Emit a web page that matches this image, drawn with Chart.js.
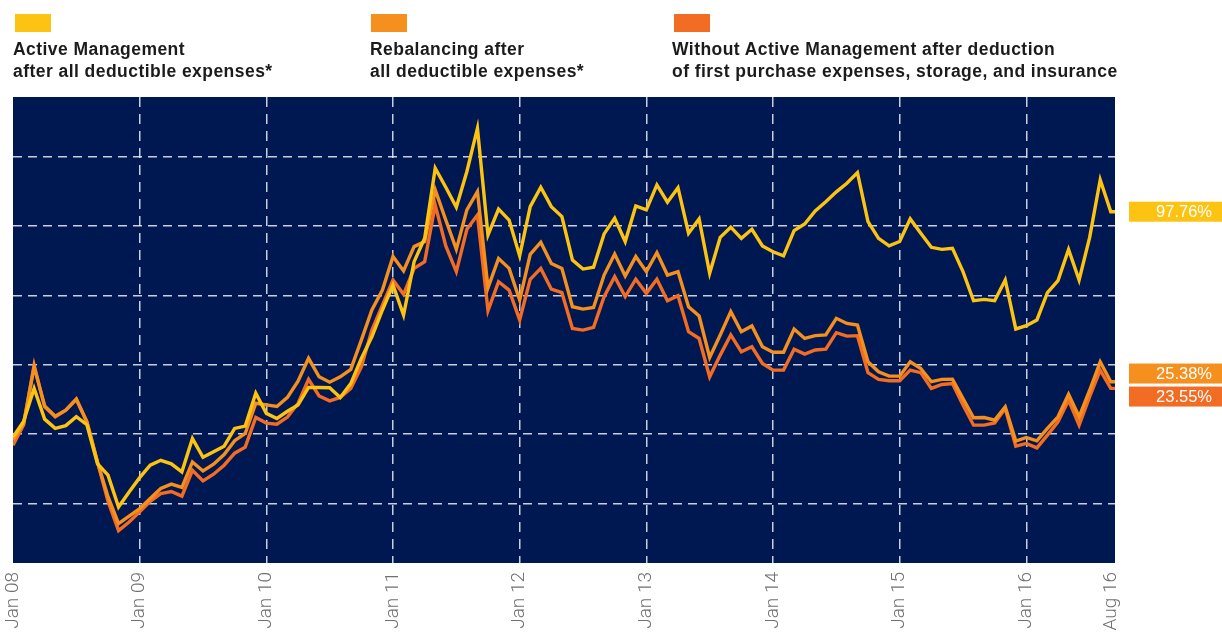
<!DOCTYPE html>
<html lang="en">
<head>
    <meta charset="UTF-8">
    <title>Active Management vs Rebalancing</title>
    <script src="https://cdn.jsdelivr.net/npm/chart.js"></script>
    <style>
        body { margin: 0; background: #fff; font-family: "Liberation Sans", Arial, sans-serif; }
        #wrap { position: relative; width: 1222px; height: 640px; }
        #chart { position: absolute; left: 0; top: 0; }
        .key { position: absolute; top: 14px; width: 36px; height: 18px; }
        .ktext { position: absolute; top: 38px; font-size: 17.5px; letter-spacing: 0.45px; font-weight: bold; line-height: 22px; color: #1b1b1b; white-space: nowrap; }
    </style>
</head>
<body>
<div id="wrap">
    <canvas id="chart" width="1222" height="640"></canvas>
    <div class="key" style="left:15px;background:#fdc312"></div>
    <div class="ktext" style="left:13px">Active Management<br>after all deductible expenses*</div>
    <div class="key" style="left:371px;background:#f5901f"></div>
    <div class="ktext" style="left:370px">Rebalancing after<br>all deductible expenses*</div>
    <div class="key" style="left:674px;background:#f26c23"></div>
    <div class="ktext" style="left:672px">Without Active Management after deduction<br>of first purchase expenses, storage, and insurance</div>
</div>
<script>
    // monthly values, Jan 08 .. Aug 16 (% change)
    const activeMgmt = [
        -1.2, 5.5, 19.8, 6.5, 2.5, 3.7, 7.6, 4.1, -12.7, -17.7, -31.5, -25.0,
        -18.8, -13.4, -11.3, -12.8, -16.3, -1.9, -10.0, -7.6, -5.2, 2.5, 3.5, 17.7,
        9.0, 6.8, 9.9, 12.6, 20.2, 20.2, 20.1, 15.9, 21.9, 32.8, 42.1, 53.7,
        64.5, 51.5, 74.6, 84.7, 115.0, 106.8, 98.1, 113.6, 132.3, 86.1, 97.3, 92.6,
        77.1, 98.4, 106.8, 98.4, 94.1, 75.3, 71.4, 72.2, 86.6, 93.4, 83.3, 98.7,
        97.0, 107.8, 100.3, 106.6, 86.9, 93.1, 69.6, 85.1, 89.5, 84.7, 88.6, 81.4,
        78.9, 77.1, 88.0, 90.9, 96.5, 100.5, 104.8, 108.5, 113.1, 91.9, 84.7, 81.4,
        83.3, 93.1, 86.9, 80.8, 79.9, 80.4, 70.3, 57.7, 58.3, 57.7, 66.7, 45.5,
        46.9, 49.4, 61.2, 66.4, 79.9, 66.7, 85.1, 110.0, 96.2
    ];
    const rebalancing = [
        -2.6, 4.5, 29.1, 12.2, 7.8, 10.4, 15.1, 5.3, -12.0, -27.0, -38.7, -35.4,
        -32.2, -27.8, -23.5, -21.6, -23.0, -12.0, -15.9, -13.0, -8.8, -2.8, 0.3, 13.4,
        12.7, 12.0, 15.9, 22.9, 32.8, 24.8, 22.5, 24.8, 28.0, 40.7, 53.7, 62.3,
        76.8, 70.6, 81.1, 83.3, 105.6, 92.6, 79.9, 97.0, 104.9, 63.3, 76.0, 71.7,
        58.0, 77.8, 83.0, 73.8, 71.7, 55.1, 54.1, 54.8, 68.8, 77.9, 68.4, 76.8,
        70.3, 78.5, 68.8, 70.3, 55.1, 51.1, 33.2, 42.9, 53.0, 44.3, 46.8, 37.8,
        35.4, 35.4, 45.5, 41.4, 42.6, 42.9, 50.1, 47.9, 47.2, 31.3, 27.0, 25.1,
        25.1, 31.3, 28.4, 22.7, 23.7, 23.8, 15.4, 7.1, 7.2, 6.1, 11.8, -3.0,
        -1.4, -2.9, 2.5, 7.5, 17.3, 7.5, 19.0, 31.3, 22.7
    ];
    const withoutMgmt = [
        -4.8, 4.0, 29.9, 11.8, 7.5, 10.4, 15.2, 5.3, -12.0, -29.0, -41.7, -38.0,
        -33.6, -29.0, -25.7, -24.8, -26.8, -15.6, -20.2, -17.3, -13.4, -8.2, -5.6, 7.2,
        4.8, 4.3, 7.4, 13.3, 23.7, 16.5, 14.4, 15.9, 19.8, 29.1, 45.0, 55.8,
        66.7, 60.5, 71.7, 74.6, 99.1, 81.4, 70.3, 88.6, 94.8, 53.4, 65.9, 62.3,
        49.4, 67.0, 71.7, 62.7, 61.2, 45.7, 45.0, 46.2, 59.5, 68.1, 59.5, 67.0,
        60.9, 67.0, 57.7, 59.9, 44.3, 41.4, 24.8, 34.2, 42.9, 35.6, 37.8, 30.6,
        27.7, 27.7, 36.7, 34.6, 36.4, 36.8, 43.9, 42.4, 42.6, 26.6, 23.7, 23.1,
        23.1, 27.7, 26.6, 19.8, 21.5, 21.9, 12.6, 3.9, 3.9, 4.9, 11.1, -5.2,
        -4.0, -5.9, -0.4, 5.3, 14.7, 3.9, 16.2, 27.7, 19.8
    ];
    const endLabels = ["97.76%", "25.38%", "23.55%"];

    const tickPos = [0, 12, 24, 36, 48, 60, 72, 84, 96, 104];
    const tickLabels = ["Jan 08", "Jan 09", "Jan 10", "Jan 11", "Jan 12", "Jan 13", "Jan 14", "Jan 15", "Jan 16", "Aug 16"];
    const yGrid = [-30, 0, 30, 60, 90, 120];
    const xEnd = 104.4;

    const colors = ["#fdc312", "#f5901f", "#f26c23"];
    const navy = "#001851";
    const gridCol = "rgba(235,238,245,0.85)";

    function toPoints(arr) {
        const pts = arr.map((v, i) => ({ x: i, y: v }));
        pts.push({ x: xEnd, y: arr[arr.length - 1] }); // line runs flat to the edge
        return pts;
    }

    const plotBg = {
        id: "plotBg",
        beforeDraw(chart) {
            const { ctx, chartArea: a } = chart;
            ctx.save();
            ctx.fillStyle = navy;
            ctx.fillRect(a.left, a.top, a.right - a.left, a.bottom - a.top);
            ctx.restore();
        }
    };

    const endBoxes = {
        id: "endBoxes",
        afterDraw(chart) {
            const { ctx, chartArea: a } = chart;
            const h = 20, gap = 3;
            let items = chart.data.datasets.map((ds, i) => {
                const pts = chart.getDatasetMeta(i).data;
                return { y: pts[pts.length - 1].y, color: colors[i], text: endLabels[i] };
            }).sort((p, q) => p.y - q.y);
            // push overlapping boxes apart around their midpoint
            for (let k = 1; k < items.length; k++) {
                const p = items[k - 1], q = items[k];
                if (q.y - p.y < h + gap) {
                    const mid = (p.y + q.y) / 2;
                    p.y = mid - (h + gap) / 2;
                    q.y = mid + (h + gap) / 2;
                }
            }
            ctx.save();
            ctx.font = "16.5px 'Liberation Sans', Arial, sans-serif";
            ctx.textAlign = "right";
            ctx.textBaseline = "middle";
            items.forEach(it => {
                ctx.fillStyle = it.color;
                ctx.fillRect(a.right + 14, it.y - h / 2, chart.width - a.right - 14, h);
                ctx.fillStyle = "#fff";
                ctx.fillText(it.text, chart.width - 10, it.y + 1);
            });
            ctx.restore();
        }
    };

    const mk = (label, arr, color) => ({
        label,
        data: toPoints(arr),
        borderColor: color,
        borderWidth: 3.4,
        pointRadius: 0,
        tension: 0,
        fill: false
    });

    new Chart(document.getElementById("chart"), {
        type: "line",
        data: {
            datasets: [
                mk("Active Management after all deductible expenses*", activeMgmt, colors[0]),
                mk("Rebalancing after all deductible expenses*", rebalancing, colors[1]),
                mk("Without Active Management after deduction of first purchase expenses, storage, and insurance", withoutMgmt, colors[2])
            ]
        },
        options: {
            responsive: false,
            animation: false,
            layout: { padding: { left: 13, right: 107, top: 97, bottom: 0 } },
            plugins: { legend: { display: false }, tooltip: { enabled: false } },
            scales: {
                x: {
                    type: "linear",
                    min: 0,
                    max: xEnd,
                    afterBuildTicks(axis) { axis.ticks = tickPos.map(v => ({ value: v })); },
                    afterFit(axis) { axis.height = 77; },
                    grid: {
                        drawTicks: false,
                        lineWidth: 1.5,
                        // no line on the left edge or at the Aug 16 end tick
                        color: ctx => ctx.tick && (ctx.tick.value === 0 || ctx.tick.value === 104) ? "rgba(0,0,0,0)" : gridCol
                    },
                    border: { display: false, dash: [10, 7] },
                    ticks: {
                        autoSkip: false,
                        minRotation: 90,
                        maxRotation: 90,
                        padding: 9,
                        color: "#707070",
                        font: { family: "Roboto", weight: "300", size: 19 },
                        callback: v => tickLabels[tickPos.indexOf(v)]
                    }
                },
                y: {
                    min: -55.7,
                    max: 145.8,
                    afterBuildTicks(axis) { axis.ticks = yGrid.map(v => ({ value: v })); },
                    afterFit(axis) { axis.width = 0; },
                    grid: { drawTicks: false, lineWidth: 1.5, color: gridCol },
                    border: { display: false, dash: [9, 6] },
                    ticks: { display: false }
                }
            }
        },
        plugins: [plotBg, endBoxes]
    });
</script>
</body>
</html>
